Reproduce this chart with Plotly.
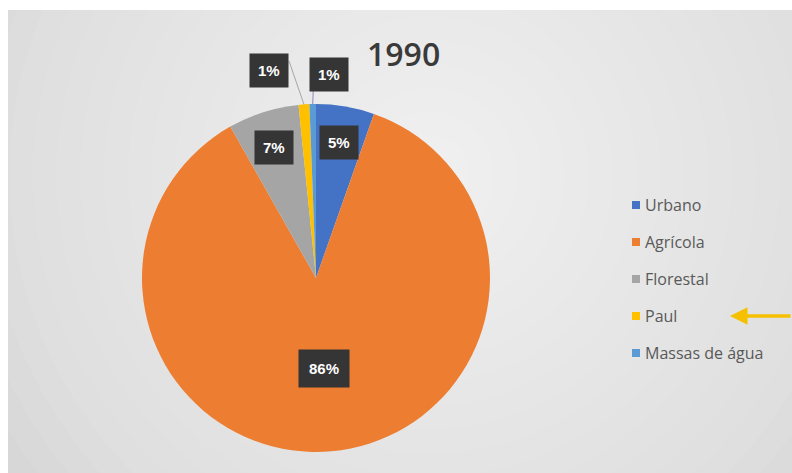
import math
import plotly.graph_objects as go

W, H = 792, 473

categories = ["Urbano", "Agrícola", "Florestal", "Paul", "Massas de água"]
values = [5.4, 86.4, 6.6, 1.0, 0.6]
colors = ["#4472C4", "#ED7D31", "#A5A5A5", "#FFC000", "#5B9BD5"]
title_text = "1990"

# geometry (pixels)
CX, CY, R = 316, 278, 174


def px(x):
    return x / W


def py(y):
    return 1 - y / H


fig = go.Figure(
    go.Pie(
        labels=categories,
        values=values,
        sort=False,
        direction="clockwise",
        rotation=0,
        marker=dict(colors=colors, line=dict(width=0)),
        textinfo="none",
        hoverinfo="label+percent",
        showlegend=False,
        domain=dict(x=[px(CX - R), px(CX + R)], y=[py(CY + R), py(CY - R)]),
    )
)

shapes = []
annotations = []

# background: grey panel with soft radial highlight
shapes.append(dict(type="rect", xref="paper", yref="paper", x0=px(8), x1=px(W), y0=py(H), y1=py(10),
                   fillcolor="#d3d3d3", line=dict(width=0), layer="below"))
GX, GY = 430, 175
steps = 22
for i in range(steps):
    rr = 540 - i * (540 - 40) / (steps - 1)
    shapes.append(dict(type="circle", xref="paper", yref="paper",
                       x0=px(GX - rr), x1=px(GX + rr), y0=py(GY + rr), y1=py(GY - rr),
                       fillcolor="rgba(255,255,255,0.06)", line=dict(width=0), layer="below"))
# white outer margin
shapes.append(dict(type="rect", xref="paper", yref="paper", x0=0, x1=1, y0=py(10), y1=1.2,
                   fillcolor="white", line=dict(width=0), layer="below"))
shapes.append(dict(type="rect", xref="paper", yref="paper", x0=-0.2, x1=px(8), y0=-0.2, y1=1.2,
                   fillcolor="white", line=dict(width=0), layer="below"))

# data labels
total = sum(values)
cum = 0.0
side = -1
label_font = dict(family="Liberation Sans, Arial", size=15, color="white")
for cat, v in zip(categories, values):
    mid = math.radians((cum + v / 2) / total * 360)
    cum += v
    txt = f"<b>{round(v / total * 100)}%</b>"
    if v / total >= 0.03:
        big = v / total > 0.5
        rf = 0.52 if big else 0.79
        lx = CX + rf * R * math.sin(mid)
        ly = CY - rf * R * math.cos(mid)
        annotations.append(dict(x=px(lx), y=py(ly), xref="paper", yref="paper", text=txt,
                                xanchor="center", yanchor="middle",
                                showarrow=False, bgcolor="#353535", borderpad=10 if big else 8,
                                font=label_font))
    else:
        ex = CX + R * math.sin(mid)
        ey = CY - R * math.cos(mid)
        lx = ex + (35 if side < 0 else 16.5) * side
        ly = CY - (1.19 if side < 0 else 1.17) * R
        if side < 0:
            sx, sy = lx + 20, ly - 10
        else:
            sx, sy = lx - 16, ly + 16
        shapes.append(dict(type="line", xref="paper", yref="paper", x0=px(sx), y0=py(sy),
                           x1=px(ex), y1=py(ey),
                           line=dict(color="#a6a6a6" if side < 0 else "#8e86c0", width=1)))
        annotations.append(dict(x=px(lx), y=py(ly), xref="paper", yref="paper", text=txt,
                                xanchor="center", yanchor="middle",
                                showarrow=False, bgcolor="#353535", borderpad=8, font=label_font))
        side = -side

# title
annotations.append(dict(x=px(403), y=py(53), xref="paper", yref="paper", text=title_text,
                        xanchor="center", yanchor="middle", showarrow=False,
                        font=dict(family="Open Sans", size=32, color="#3a3a3a", weight=600)))

# legend (manual)
LX, LY0, LDY = 632, 205, 37
for i, (cat, col) in enumerate(zip(categories, colors)):
    yy = LY0 + i * LDY
    shapes.append(dict(type="rect", xref="paper", yref="paper", x0=px(LX), x1=px(LX + 8),
                       y0=py(yy + 4), y1=py(yy - 4), fillcolor=col, line=dict(width=0)))
    annotations.append(dict(x=px(LX + 11), y=py(yy), xref="paper", yref="paper", text=cat,
                            xanchor="left", yanchor="middle", showarrow=False,
                            font=dict(family="Open Sans", size=16, color="#595959")))

# yellow arrow pointing at "Paul"
annotations.append(dict(x=px(730), y=py(LY0 + 3 * LDY), xref="paper", yref="paper", text="",
                        showarrow=True, ax=62, ay=0, arrowhead=2, arrowsize=1, arrowwidth=3.5,
                        arrowcolor="#F5C000"))

fig.update_layout(
    width=W, height=H,
    margin=dict(l=0, r=0, t=0, b=0),
    paper_bgcolor="white",
    shapes=shapes,
    annotations=annotations,
    showlegend=False,
)

fig.write_html("out.html", config={"displayModeBar": False},
               post_script="document.body.style.margin='0px';")
